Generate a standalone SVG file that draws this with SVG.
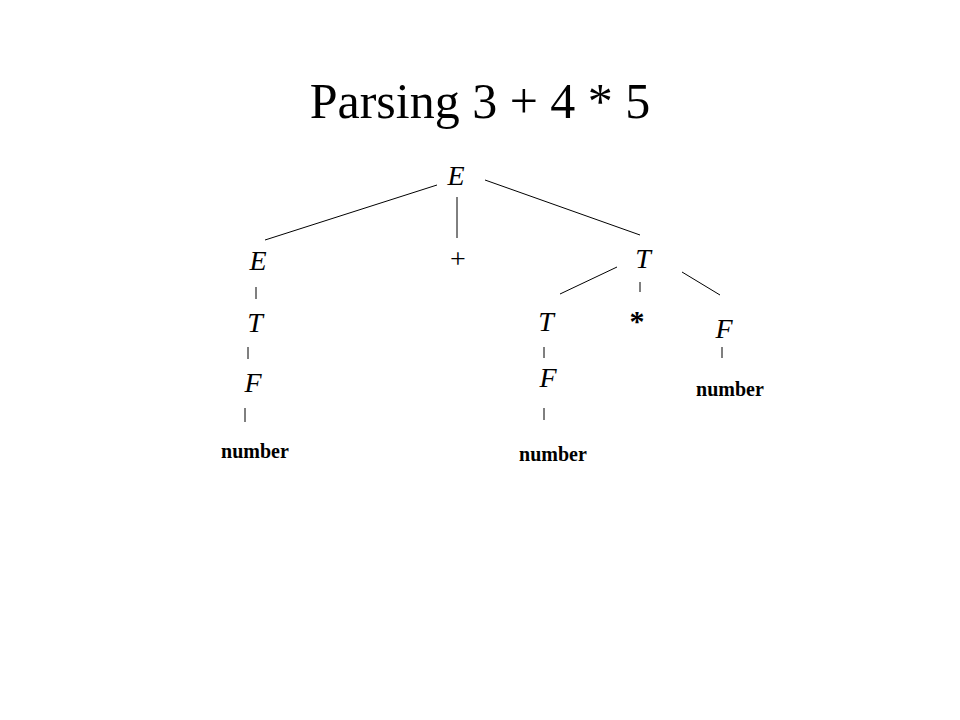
<svg xmlns="http://www.w3.org/2000/svg" width="960" height="720" viewBox="0 0 960 720">
<style>
text{font-family:"Liberation Serif",serif;text-anchor:middle}
.s{font-size:28px;font-style:italic}
.n{font-size:20px;font-weight:bold}
line{stroke:#000;stroke-width:1}
</style>
<rect width="960" height="720" fill="#fff"/>
<text x="480" y="118" font-size="50">Parsing 3 + 4 * 5</text>
<g id="connectors">
<line x1="437" y1="185" x2="265" y2="240"/>
<line x1="457" y1="197" x2="457" y2="238"/>
<line x1="485" y1="180" x2="640" y2="235"/>
<line x1="617" y1="267" x2="560" y2="294"/>
<line x1="640" y1="282" x2="640" y2="292"/>
<line x1="682" y1="272" x2="720" y2="295"/>
<line x1="256" y1="287" x2="256" y2="299"/>
<line x1="248" y1="347" x2="248" y2="359"/>
<line x1="245" y1="408" x2="245" y2="422"/>
<line x1="544" y1="347" x2="544" y2="358"/>
<line x1="544" y1="408" x2="544" y2="420"/>
<line x1="722" y1="347" x2="722" y2="358"/>
</g>
<g id="n1"><text class="s" x="456" y="185">E</text></g>
<g id="n2"><text class="s" x="258" y="270">E</text></g>
<g id="n3"><text x="458" y="268" font-size="28">+</text></g>
<g id="n4"><text class="s" x="643" y="268">T</text></g>
<g id="n5"><text class="s" x="255" y="332">T</text></g>
<g id="n6"><text class="s" x="546" y="331">T</text></g>
<g id="n7"><text x="637" y="331" font-size="30" font-weight="bold">*</text></g>
<g id="n8"><text class="s" x="724" y="338">F</text></g>
<g id="n9"><text class="s" x="253" y="392">F</text></g>
<g id="n10"><text class="s" x="548" y="387">F</text></g>
<g id="n11"><text class="n" x="255" y="458">number</text></g>
<g id="n12"><text class="n" x="553" y="461">number</text></g>
<g id="n13"><text class="n" x="730" y="396">number</text></g>
</svg>
